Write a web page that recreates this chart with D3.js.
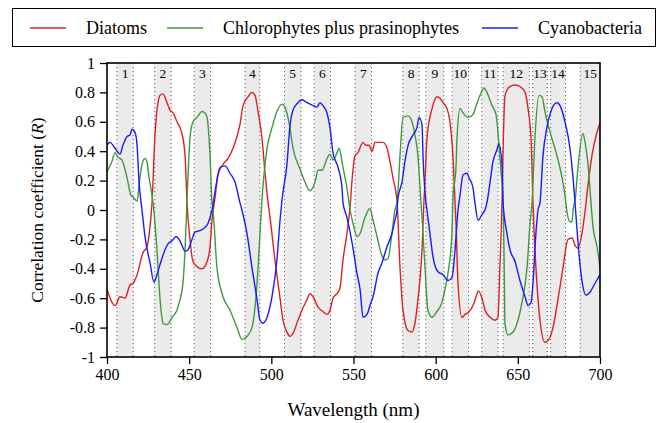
<!DOCTYPE html>
<html>
<head>
<meta charset="utf-8">
<script src="https://cdn.jsdelivr.net/npm/d3@7"></script>
<style>
  body { margin: 0; background: #fff; }
</style>
</head>
<body>
<svg id="chart" width="662" height="423" font-family="Liberation Serif"></svg>
<script>
// wavelength bands (nm) and their labels
const bandLabels = ['1','2','3','4','5','6','7','8','9','10','11','12','13','14','15'];
const bandStart = [406, 429, 453, 484, 508, 526, 551, 580, 594, 610, 628, 641, 659, 670, 688];
const bandEnd   = [416, 439, 463, 493, 518, 536, 561, 590, 605, 620, 638, 657, 668, 679, 700];

const seriesNames = ['Diatoms', 'Chlorophytes plus prasinophytes', 'Cyanobacteria'];
const seriesColors = ['#e02020', '#3d9a3d', '#1a1aff'];

const xTicks = [400, 450, 500, 550, 600, 650, 700];
const yTicks = [1, 0.8, 0.6, 0.4, 0.2, 0, -0.2, -0.4, -0.6, -0.8, -1];

// [wavelength nm, R]
const diatoms = [
  [400,-0.54],[404.9,-0.65],[407.9,-0.59],[411,-0.6],[414,-0.51],[415.8,-0.5],[418.3,-0.44],
  [421.9,-0.29],[424.3,-0.25],[426.2,-0.11],[427.4,0.05],[429.2,0.51],[432.3,0.78],[434.1,0.79],
  [436.5,0.73],[438.3,0.68],[440.2,0.66],[442.6,0.6],[445.6,0.52],[447.5,0.37],[448.7,0.05],
  [450.5,-0.2],[452.3,-0.35],[455.4,-0.39],[457.8,-0.4],[460.9,-0.35],[462.7,-0.25],[463.9,-0.07],
  [465.7,0.08],[467.5,0.24],[470.6,0.31],[473.6,0.35],[476.7,0.42],[480.9,0.58],[482.8,0.71],
  [485.8,0.77],[488.2,0.8],[490.1,0.78],[491.9,0.67],[494.3,0.49],[496.1,0.26],[498,0.05],
  [499.2,-0.05],[502.2,-0.34],[505.3,-0.6],[507.1,-0.75],[509.5,-0.83],[511.4,-0.86],[513.2,-0.84],
  [516.2,-0.75],[518.7,-0.68],[521.7,-0.61],[523.5,-0.57],[525.4,-0.59],[528.4,-0.66],[531.4,-0.69],
  [533.9,-0.71],[535.7,-0.68],[537.5,-0.6],[540.6,-0.56],[541.8,-0.53],[543.6,-0.34],[546,-0.16],
  [547.9,0.02],[549.1,0.2],[550.9,0.37],[552.7,0.39],[555.8,0.46],[557.6,0.44],[559.4,0.44],
  [561.3,0.4],[563.1,0.46],[566.1,0.46],[567.9,0.46],[570.4,0.42],[572.2,0.33],[574,0.22],
  [576.5,0.05],[578.3,-0.39],[580.1,-0.68],[583.2,-0.82],[585.6,-0.83],[587.4,-0.77],[589.2,-0.61],
  [591.7,-0.27],[592.9,0.07],[593.5,0.2],[594.7,0.49],[597.8,0.69],[600.8,0.77],[602.6,0.76],
  [604.5,0.73],[606.9,0.69],[608.7,0.6],[610.5,0.37],[611.8,0.05],[612.4,-0.1],[613.6,-0.5],
  [616,-0.73],[617.9,-0.71],[619.7,-0.7],[622.7,-0.65],[625.2,-0.57],[625.8,-0.55],[628.2,-0.6],
  [630,-0.68],[633.1,-0.73],[636.1,-0.75],[637.9,-0.73],[639.1,-0.39],[640.4,0.07],[641,0.4],
  [642.2,0.78],[645.2,0.84],[648.3,0.85],[651.3,0.84],[654.4,0.8],[656.2,0.69],[658,0.49],
  [659.2,0.05],[661,-0.39],[663.5,-0.75],[666.5,-0.9],[668.3,-0.89],[671.4,-0.8],[674.4,-0.61],
  [677.5,-0.39],[680.5,-0.2],[683,-0.19],[684.8,-0.24],[686.6,-0.26],[689,-0.16],[691,0],
  [692.5,0.15],[695.1,0.37],[698.2,0.53],[700,0.59]
];

const chlorophytes = [
  [400,0.26],[403,0.33],[404.9,0.39],[406.7,0.36],[409.1,0.34],[412.2,0.22],[414.6,0.1],
  [415.8,0.09],[418.3,0.06],[419.5,0.17],[421.3,0.31],[423.1,0.35],[424.3,0.33],[425.6,0.22],
  [427.4,0.1],[428,0.05],[430.4,-0.27],[432.3,-0.61],[434.1,-0.77],[436.5,-0.78],[439.6,-0.73],
  [442.6,-0.68],[444.4,-0.61],[446.2,-0.5],[447.5,-0.27],[448.7,0.07],[450.5,0.49],[452.3,0.6],
  [454.8,0.63],[457.8,0.67],[459.6,0.66],[460.9,0.63],[462.7,0.37],[463.9,0.05],[464.5,0],
  [466.9,-0.39],[470.6,-0.59],[474.8,-0.68],[479.1,-0.8],[482.1,-0.88],[485.2,-0.86],[488.2,-0.8],
  [491.3,-0.5],[493.1,-0.16],[494.3,0.07],[497.4,0.42],[500.4,0.56],[503.4,0.67],[506.5,0.72],
  [508.3,0.7],[511,0.58],[513.2,0.42],[517.4,0.28],[520.5,0.19],[523.5,0.13],[526.6,0.19],
  [528.4,0.27],[530.8,0.27],[533.9,0.35],[535.7,0.38],[537.5,0.34],[540,0.39],[541.2,0.42],
  [543.6,0.29],[546,0.15],[547.9,0],[549.7,-0.09],[552.1,-0.18],[554,-0.16],[557,-0.05],
  [560,0.01],[561.9,-0.07],[564.3,-0.18],[567.3,-0.31],[569.2,-0.34],[571,-0.33],[573.4,-0.16],
  [575.2,0.0],[576.5,0.05],[578.3,0.37],[580.1,0.63],[583.2,0.64],[585.6,0.6],[587.4,0.51],
  [589.2,0.37],[591.1,0.05],[591.7,-0.05],[593.5,-0.39],[595.3,-0.68],[597.8,-0.73],[600.8,-0.69],
  [603.8,-0.63],[605.7,-0.54],[607.5,-0.43],[609.9,-0.16],[610.5,0.07],[612.4,0.3],[613,0.49],
  [614.8,0.69],[616.7,0.66],[619.7,0.63],[622.7,0.65],[625,0.72],[627,0.78],[629.4,0.83],
  [631.2,0.8],[634.3,0.71],[636.7,0.65],[637.9,0.53],[639.7,0.26],[641,0.07],[641.6,-0.3],
  [642.2,-0.78],[644,-0.85],[647.1,-0.83],[650.1,-0.75],[652.5,-0.63],[655.6,-0.39],[657.4,-0.1],
  [658.6,0.05],[660.4,0.49],[662.9,0.78],[664.7,0.77],[666.5,0.67],[669.6,0.53],[673.8,0.37],
  [676.9,0.22],[678.7,0.1],[680,-0.02],[681.7,-0.08],[683,-0.08],[683.6,0],[685,0.08],
  [686.6,0.29],[689.6,0.52],[690.9,0.46],[692.7,0.31],[694.5,0.05],[695.7,-0.11],[698.2,-0.25],
  [700,-0.39]
];

const cyanobacteria = [
  [400,0.44],[401.8,0.46],[404.9,0.42],[407.9,0.38],[409.7,0.44],[412.2,0.5],[414,0.51],
  [415.2,0.55],[417,0.53],[418.3,0.44],[419.5,0.19],[421.3,0],[423.1,-0.18],[426.2,-0.36],
  [428.6,-0.49],[430.4,-0.44],[432.3,-0.37],[435.3,-0.27],[437.1,-0.23],[439.6,-0.21],[442,-0.18],
  [444.4,-0.21],[447.5,-0.28],[449.3,-0.27],[451.7,-0.2],[453.5,-0.15],[456.6,-0.14],[459.6,-0.12],
  [461.5,-0.09],[463.9,0],[465.7,0.12],[468.8,0.29],[471.8,0.3],[474.8,0.25],[477.9,0.19],
  [480.9,0.05],[482.1,0],[485.2,-0.16],[488.2,-0.39],[491.3,-0.61],[493.1,-0.75],[494.9,-0.77],
  [497.4,-0.73],[500.4,-0.59],[503.4,-0.34],[505.3,-0.07],[506.5,0.07],[509.5,0.31],[511.4,0.58],
  [513.2,0.68],[516.2,0.73],[518.7,0.75],[521.7,0.73],[525.4,0.71],[527.8,0.7],[529.6,0.73],
  [531.4,0.71],[533.9,0.66],[535.7,0.56],[537.5,0.39],[540.6,0.29],[543,0.15],[543.6,0.05],
  [546,-0.05],[549.1,-0.22],[552.1,-0.43],[554,-0.54],[555.8,-0.73],[558.2,-0.71],[560.6,-0.63],
  [561.9,-0.59],[564.9,-0.43],[567.3,-0.36],[570.4,-0.25],[573.4,-0.16],[575.2,-0.07],[576.5,0],
  [577.1,0.08],[579.5,0.19],[581.3,0.33],[583.2,0.44],[586.2,0.51],[588.6,0.56],[589.9,0.63],
  [591.7,0.58],[592.3,0.37],[594.1,0.05],[594.7,0],[596.5,-0.16],[598.4,-0.32],[601.4,-0.42],
  [604.5,-0.44],[607.5,-0.48],[609.9,-0.46],[611.8,-0.27],[613.6,0],[614.8,0.1],[616.7,0.24],
  [619.1,0.25],[620.3,0.22],[622.7,0.15],[623.9,0.05],[625.8,-0.07],[628.2,-0.03],[630,0],
  [631.2,0.05],[633.1,0.19],[634.9,0.33],[637.3,0.41],[638.5,0.45],[640.4,0.3],[641,0.05],
  [643.4,-0.16],[645.2,-0.27],[648.3,-0.35],[651.3,-0.48],[654.4,-0.59],[656.2,-0.65],[658,-0.63],
  [659.2,-0.5],[661,-0.16],[662.3,0],[663.5,0.05],[665.3,0.37],[667.7,0.56],[670.8,0.69],
  [673.8,0.73],[675.7,0.71],[678.7,0.6],[681.7,0.42],[683.6,0.22],[684.8,0.05],[686.6,-0.22],
  [689,-0.48],[691.5,-0.58],[693.9,-0.56],[696.9,-0.5],[700,-0.44]
];

const allSeries = [diatoms, chlorophytes, cyanobacteria];

const LEFT = 107, RIGHT = 600, TOP = 63, BOTTOM = 357;
const FONT = 'Liberation Serif';

const svg = d3.select('#chart');

let x = d3.scaleLinear().domain([400, 700]).range([LEFT, RIGHT]);
let y = d3.scaleLinear().domain([-1, 1]).range([BOTTOM, TOP]);

// bands
let bands = svg.append('g');
bandStart.forEach((s, i) => {
    bands.append('rect')
        .attr('x', x(s)).attr('y', TOP)
        .attr('width', x(bandEnd[i]) - x(s)).attr('height', BOTTOM - TOP)
        .attr('fill', '#ebebeb');
    [s, bandEnd[i]].forEach(v => {
        bands.append('line')
            .attr('x1', x(v)).attr('x2', x(v))
            .attr('y1', TOP).attr('y2', BOTTOM)
            .attr('stroke', '#666').attr('stroke-width', 1)
            .attr('stroke-dasharray', '1.2,2.8');
    });
    bands.append('text')
        .attr('x', x((s + bandEnd[i]) / 2)).attr('y', TOP + 15)
        .attr('text-anchor', 'middle')
        .attr('font-family', FONT)
        .attr('font-size', 13.5)
        .text(bandLabels[i]);
});

svg.append('clipPath').attr('id', 'clip')
  .append('rect').attr('x', LEFT).attr('y', TOP).attr('width', RIGHT - LEFT).attr('height', BOTTOM - TOP);

let line = d3.line()
    .x(d => x(d[0]))
    .y(d => y(d[1]))
    .curve(d3.curveMonotoneX);

allSeries.forEach((data, i) => {
    svg.append('path')
        .datum(data)
        .attr('clip-path', 'url(#clip)')
        .attr('d', line)
        .attr('fill', 'none')
        .attr('stroke', seriesColors[i])
        .attr('stroke-width', 1.4);
});

// axes
let yAxis = d3.axisLeft(y).tickValues(yTicks).tickSize(7).tickPadding(5)
    .tickFormat(d => String(+d.toFixed(1)));
let gy = svg.append('g').attr('transform', `translate(${LEFT},0)`).call(yAxis)
    .attr('font-family', FONT).attr('font-size', 16);
gy.select('.domain').remove();
gy.selectAll('line').attr('stroke', '#000').attr('stroke-width', 1.3);

let xAxis = d3.axisBottom(x).tickValues(xTicks).tickSize(7).tickPadding(5);
let gx = svg.append('g').attr('transform', `translate(0,${BOTTOM})`).call(xAxis)
    .attr('font-family', FONT).attr('font-size', 16);
gx.select('.domain').remove();
gx.selectAll('line').attr('stroke', '#000').attr('stroke-width', 1.3);

// frame
svg.append('rect')
    .attr('x', LEFT).attr('y', TOP)
    .attr('width', RIGHT - LEFT).attr('height', BOTTOM - TOP)
    .attr('fill', 'none').attr('stroke', '#000').attr('stroke-width', 1.6);

// axis titles
svg.append('text')
    .attr('x', (LEFT + RIGHT) / 2).attr('y', 416)
    .attr('text-anchor', 'middle')
    .attr('font-family', FONT)
    .attr('font-size', 19)
    .text('Wavelength (nm)');

let yl = svg.append('text')
    .attr('transform', `translate(43,${(TOP + BOTTOM) / 2}) rotate(-90)`)
    .attr('text-anchor', 'middle')
    .attr('font-family', FONT)
    .attr('font-size', 17.5);
yl.append('tspan').text('Correlation coefficient (');
yl.append('tspan').attr('font-style', 'italic').text('R');
yl.append('tspan').text(')');

// legend
svg.append('rect')
    .attr('x', 12.5).attr('y', 8.5).attr('width', 643).attr('height', 38)
    .attr('fill', '#fff').attr('stroke', '#000').attr('stroke-width', 1);

const legendLineX = [30, 167, 482];
seriesNames.forEach((name, i) => {
    svg.append('line')
        .attr('x1', legendLineX[i]).attr('x2', legendLineX[i] + 36)
        .attr('y1', 28).attr('y2', 28)
        .attr('stroke', seriesColors[i]).attr('stroke-width', 1.4);
    svg.append('text')
        .attr('x', legendLineX[i] + 56).attr('y', 34)
        .attr('font-family', FONT)
        .attr('font-size', 18)
        .text(name);
});
</script>
</body>
</html>
